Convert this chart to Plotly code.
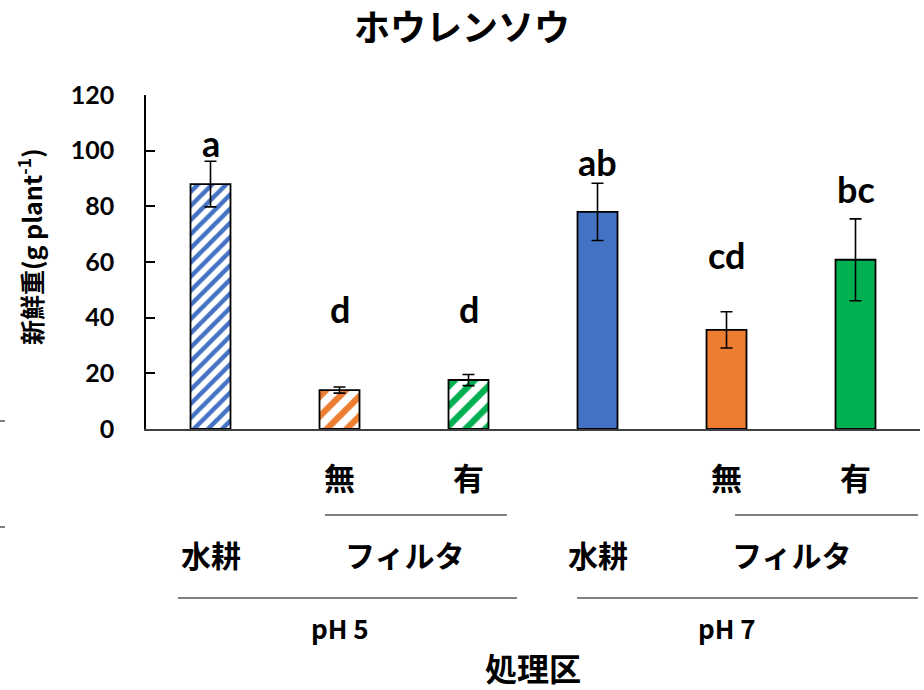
import plotly.graph_objects as go

# Fresh weight of spinach by treatment
treatments = ["水耕", "フィルタ無", "フィルタ有", "水耕", "フィルタ無", "フィルタ有"]
fresh_weight = [88.0, 14.0, 17.6, 78.0, 35.6, 60.8]
error = [8.2, 1.1, 2.0, 10.3, 6.5, 14.7]
letters = ["a", "d", "d", "ab", "cd", "bc"]
letter_y = [102.7, 43.1, 43.1, 95.9, 62.5, 86.2]
colors = ["#4472C4", "#ED7D31", "#00B050", "#4472C4", "#ED7D31", "#00B050"]
hatched = [True, True, True, False, False, False]
hatch_size = [10, 14, 14, 10, 14, 14]

filter_labels = ["無", "有", "無", "有"]
filter_pos = [1, 2, 4, 5]
method_labels = ["水耕", "フィルタ", "水耕", "フィルタ"]
method_pos = [0.0, 1.5, 3.0, 4.5]
ph_labels = ["pH 5", "pH 7"]
ph_pos = [1.0, 4.0]

LATIN = "Lato, 'Noto Sans CJK JP', sans-serif"
JP = "'Noto Sans CJK JP', sans-serif"


def font(fam, size):
    return dict(family=fam, size=size, color="black", weight="bold")


x = list(range(len(fresh_weight)))

fig = go.Figure()
for xi, v, e, c, h, hs in zip(x, fresh_weight, error, colors, hatched, hatch_size):
    marker = dict(color=c, line=dict(color="black", width=1.8))
    if h:
        marker = dict(
            color="white",
            line=dict(color="black", width=1.8),
            pattern=dict(shape="/", fgcolor=c, bgcolor="white", fgopacity=1,
                         size=hs, solidity=0.45, fillmode="overlay"),
        )
    fig.add_trace(go.Bar(
        x=[xi], y=[v], width=0.31, marker=marker,
        error_y=dict(type="data", array=[e], color="black", thickness=1.6, width=6),
        showlegend=False,
    ))

# significance letters
for xi, t, yl in zip(x, letters, letter_y):
    fig.add_annotation(x=xi, y=yl, text=f"<b>{t}</b>", showarrow=False,
                       xref="x", yref="y", yanchor="middle",
                       font=font(LATIN, 36))

PH = 334.0  # plot height in px
PW = 774.0  # plot width in px


def py(px_below_axis):
    return -px_below_axis / PH


for xi, t in zip(filter_pos, filter_labels):
    fig.add_annotation(x=xi, y=py(47.5), text=f"<b>{t}</b>", showarrow=False,
                       xref="x", yref="paper", yanchor="middle",
                       font=font(JP, 31))
for xi, t in zip(method_pos, method_labels):
    fig.add_annotation(x=xi, y=py(125), text=f"<b>{t}</b>", showarrow=False,
                       xref="x", yref="paper", yanchor="middle",
                       font=font(JP, 30))
for xi, t in zip(ph_pos, ph_labels):
    fig.add_annotation(x=xi, y=py(198), text=f"<b>{t}</b>", showarrow=False,
                       xref="x", yref="paper", yanchor="middle",
                       font=font(JP, 26))
fig.add_annotation(x=0.5, y=py(238), text="<b>処理区</b>", showarrow=False,
                   xref="paper", yref="paper", yanchor="middle",
                   font=font(JP, 32))

# y-axis title
fig.add_annotation(x=-116 / PW, y=182 / PH, text="<b>新鮮重(g plant<sup>-1</sup>)</b>",
                   textangle=-90, showarrow=False, xref="paper", yref="paper",
                   xanchor="center", yanchor="middle", font=font(JP, 25))

# grouping lines under the category labels
for x0, x1, yy in [(0.888, 2.298, 86), (4.066, 5.484, 86),
                   (-0.252, 2.376, 169), (2.841, 5.484, 169)]:
    fig.add_shape(type="line", xref="x", yref="paper", x0=x0, x1=x1,
                  y0=py(yy), y1=py(yy), line=dict(color="black", width=1))

# small marks at the left edge
for yy in [-8, 98]:
    fig.add_shape(type="line", xref="paper", yref="paper",
                  x0=-146 / PW, x1=-141 / PW, y0=py(yy), y1=py(yy),
                  line=dict(color="#555555", width=1.5))

fig.update_layout(
    width=924, height=690,
    margin=dict(l=146, r=4, t=95, b=261),
    plot_bgcolor="white", paper_bgcolor="white",
    barmode="overlay",
    title=dict(text="<b>ホウレンソウ</b>", x=0.5, xanchor="center",
               y=1 - 28 / 690, yanchor="middle",
               font=font(JP, 36)),
    xaxis=dict(range=[-0.5, 5.5], showticklabels=False, ticks="",
               showgrid=False, zeroline=False, showline=True,
               linecolor="#404040", linewidth=2),
    yaxis=dict(range=[0, 120], tickvals=[0, 20, 40, 60, 80, 100, 120],
               ticks="inside", ticklen=9, tickwidth=1.5, tickcolor="black",
               showgrid=False, zeroline=False, showline=True,
               linecolor="black", linewidth=1.5,
               tickfont=font(LATIN, 25),
               ticklabelstandoff=25),
)

fig.write_html("out.html")
